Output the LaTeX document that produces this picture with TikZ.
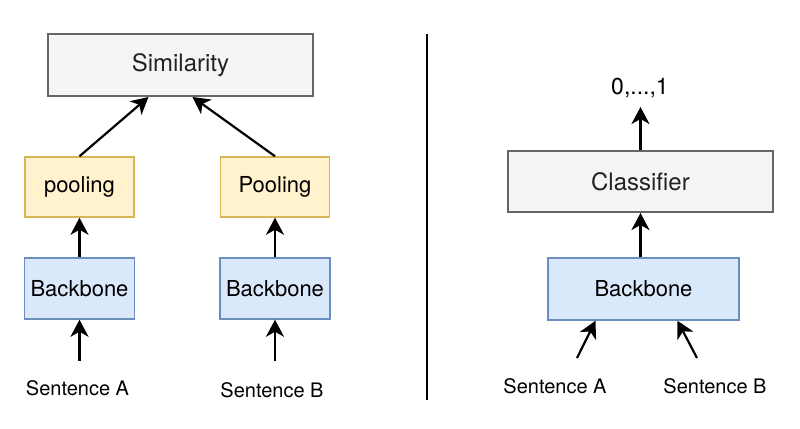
\documentclass[tikz,border=0pt]{standalone}
\usepackage{fontspec}
\setmainfont{TeX Gyre Heros}
\usetikzlibrary{arrows.meta,calc}
\definecolor{grayfill}{HTML}{F5F5F5}
\definecolor{graydraw}{HTML}{666666}
\definecolor{yelfill}{HTML}{FFF2CC}
\definecolor{yeldraw}{HTML}{D6B656}
\definecolor{bluefill}{HTML}{DAE8FC}
\definecolor{bluedraw}{HTML}{6C8EBF}
\definecolor{txt}{HTML}{222222}
\tikzset{
  graybox/.style={draw=graydraw,fill=grayfill,line width=1pt,text=txt,font=\fontsize{12}{14}\selectfont,inner sep=0pt},
  yelbox/.style={draw=yeldraw,fill=yelfill,line width=0.75pt,font=\fontsize{11}{13}\selectfont,inner sep=0pt,minimum width=54.5pt,minimum height=30pt},
  bluebox/.style={draw=bluedraw,fill=bluefill,line width=0.75pt,font=\fontsize{11}{13}\selectfont,inner sep=0pt,minimum height=30.5pt},
  lbl/.style={font=\fontsize{10}{12}\selectfont,inner sep=0pt},
  arr/.style={-{Stealth[length=8.5pt,width=9pt,inset=2.5pt]},line width=1.1pt,black}
}
\begin{document}
\begin{tikzpicture}[x=0.5pt,y=-0.5pt]
\useasboundingbox[fill=white] (0,0) rectangle (800,429);
% left
\node[graybox,minimum width=132.5pt,minimum height=31pt] (sim) at (180.5,65) {Similarity};
\node[yelbox] (pl) at (79.5,187) {pooling};
\node[yelbox] (pr) at (275,187) {Pooling};
\node[bluebox,minimum width=55pt] (bl) at (79.5,288.5) {Backbone};
\node[bluebox,minimum width=55pt] (br) at (275,288.5) {Backbone};
\node[lbl] (sa) at (77.5,388) {Sentence A};
\node[lbl] (sb) at (272,390) {Sentence B};
\coordinate (ta) at (79.5,361);
\coordinate (tb) at (275,361);
\draw[arr] (pl.north) -- ([xshift=-16pt]sim.south);
\draw[arr] (pr.north) -- ([xshift=6pt]sim.south);
\draw[arr] (bl.north) -- (pl.south);
\draw[arr] (br.north) -- (pr.south);
\draw[arr] (ta) -- (bl.south);
\draw[arr] (tb) -- (br.south);
% divider
\coordinate (dtop) at (427,34);
\coordinate (dbot) at (427,400);
\draw[line width=1pt] (dtop) -- (dbot);
% right
\node[font=\fontsize{11.5}{13}\selectfont,inner sep=0pt] (out) at (640,88) {0,...,1};
\coordinate (outtip) at (640.5,107);
\node[graybox,minimum width=132.5pt,minimum height=30.5pt] (cl) at (640.5,181.5) {Classifier};
\node[bluebox,minimum width=95.5pt,minimum height=31pt] (bb) at (643.5,289) {Backbone};
\node[lbl] (sa2) at (555,386) {Sentence A};
\node[lbl] (sb2) at (715,386) {Sentence B};
\coordinate (ta2) at (577,358);
\coordinate (tb2) at (697,358);
\draw[arr] (cl.north) -- (outtip);
\draw[arr] (bb.north -| cl.north) -- (cl.south);
\draw[arr] (ta2) -- ([xshift=-24pt]bb.south);
\draw[arr] (tb2) -- ([xshift=17pt]bb.south);
\end{tikzpicture}
\end{document}
